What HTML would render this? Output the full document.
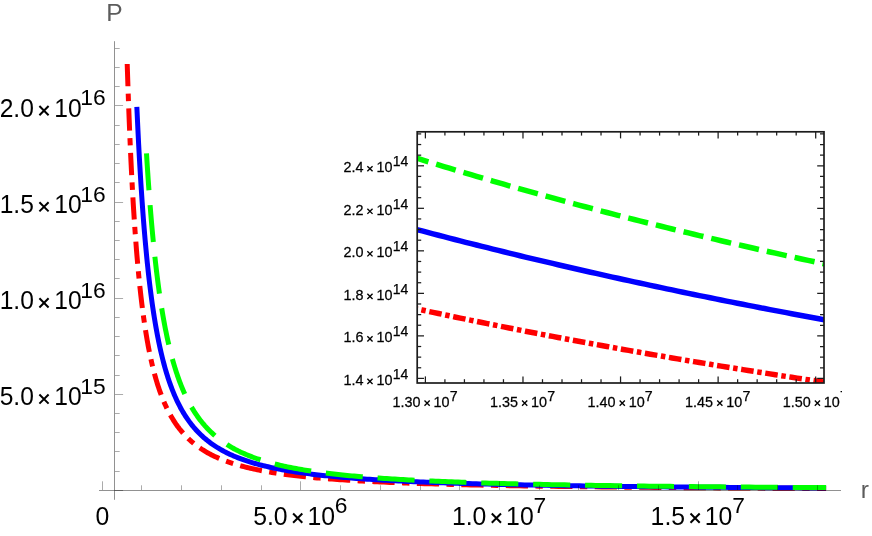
<!DOCTYPE html>
<html><head><meta charset="utf-8"><title>P vs r</title>
<style>
html,body{margin:0;padding:0;background:#fff;}
body{width:872px;height:536px;overflow:hidden;font-family:"Liberation Sans",sans-serif;}
svg{display:block;}
text{font-family:"Liberation Sans",sans-serif;}
.t{will-change:transform;}
</style></head><body>
<svg width="872" height="536" viewBox="0 0 872 536">
<rect width="872" height="536" fill="#fff"/>
<defs><clipPath id="ic"><rect x="417.20" y="131.80" width="406.80" height="251.20"/></clipPath>
<clipPath id="pc"><rect x="0" y="0" width="841.5" height="536"/></clipPath></defs>

<path d="M127.21,64.00 L127.50,72.89 L127.78,81.58 L128.07,90.07 L128.37,98.36 L128.67,106.47 L128.97,114.39 L129.27,122.13 L129.58,129.70 L129.89,137.09 L130.20,144.32 L130.52,151.39 L130.84,158.30 L131.17,165.05 L131.49,171.66 L131.83,178.11 L132.16,184.43 L132.50,190.60 L132.85,196.64 L133.19,202.54 L133.54,208.31 L133.90,213.96 L134.26,219.48 L134.62,224.89 L134.99,230.17 L135.36,235.34 L135.74,240.40 L136.12,245.35 L136.50,250.19 L136.89,254.93 L137.29,259.56 L137.68,264.10 L138.09,268.54 L138.49,272.88 L138.90,277.13 L139.32,281.29 L139.74,285.37 L140.17,289.35 L140.60,293.25 L141.03,297.07 L141.47,300.81 L141.92,304.48 L142.37,308.06 L142.82,311.57 L143.28,315.01 L143.75,318.37 L144.22,321.67 L144.70,324.89 L145.18,328.05 L145.67,331.15 L146.16,334.18 L146.66,337.15 L147.16,340.06 L147.67,342.91 L148.18,345.70 L148.71,348.43 L149.23,351.11 L149.76,353.73 L150.30,356.30 L150.85,358.82 L151.40,361.29 L151.96,363.71 L152.52,366.08 L153.09,368.40 L153.67,370.68 L154.25,372.91 L154.84,375.09 L155.44,377.24 L156.04,379.34 L156.65,381.39 L157.27,383.41 L157.89,385.39 L158.52,387.33 L159.16,389.23 L159.80,391.09 L160.46,392.92 L161.12,394.71 L161.78,396.46 L162.46,398.18 L163.14,399.87 L163.83,401.53 L164.53,403.15 L165.23,404.74 L165.95,406.30 L166.67,407.83 L167.40,409.34 L168.14,410.81 L168.88,412.25 L169.64,413.67 L170.40,415.06 L171.17,416.42 L171.96,417.76 L172.75,419.07 L173.54,420.35 L174.35,421.62 L175.17,422.85 L175.99,424.07 L176.83,425.26 L177.67,426.43 L178.53,427.57 L179.39,428.70 L180.27,429.80 L181.15,430.89 L182.04,431.95 L182.95,432.99 L183.86,434.02 L184.79,435.02 L185.72,436.01 L186.67,436.97 L187.62,437.92 L188.59,438.86 L189.57,439.77 L190.56,440.67 L191.56,441.55 L192.57,442.41 L193.59,443.26 L194.63,444.09 L195.67,444.91 L196.73,445.72 L197.80,446.50 L198.88,447.28 L199.98,448.04 L201.08,448.78 L202.20,449.51 L203.33,450.23 L204.48,450.94 L205.63,451.63 L206.80,452.31 L207.99,452.98 L209.19,453.63 L210.40,454.28 L211.62,454.91 L212.86,455.53 L214.11,456.14 L215.38,456.73 L216.66,457.32 L217.95,457.90 L219.26,458.47 L220.59,459.02 L221.93,459.57 L223.28,460.10 L224.65,460.63 L226.04,461.15 L227.44,461.66 L228.86,462.16 L230.29,462.65 L231.74,463.13 L233.20,463.60 L234.69,464.06 L236.18,464.52 L237.70,464.97 L239.23,465.41 L240.78,465.84 L242.35,466.26 L243.94,466.68 L245.54,467.09 L247.16,467.49 L248.80,467.89 L250.46,468.28 L252.14,468.66 L253.84,469.03 L255.55,469.40 L257.29,469.76 L259.04,470.12 L260.81,470.47 L262.61,470.81 L264.42,471.14 L266.26,471.48 L268.11,471.80 L269.99,472.12 L271.89,472.43 L273.81,472.74 L275.75,473.04 L277.71,473.34 L279.70,473.63 L281.71,473.92 L283.74,474.20 L285.79,474.48 L287.87,474.75 L289.97,475.02 L292.09,475.28 L294.24,475.54 L296.41,475.80 L298.61,476.05 L300.83,476.29 L303.08,476.53 L305.35,476.77 L307.65,477.00 L309.97,477.23 L312.32,477.45 L314.70,477.67 L317.10,477.89 L319.53,478.10 L321.99,478.31 L324.48,478.52 L326.99,478.72 L329.53,478.92 L332.10,479.12 L334.70,479.31 L337.33,479.50 L339.99,479.68 L342.68,479.86 L345.40,480.04 L348.15,480.22 L350.93,480.39 L353.75,480.56 L356.59,480.73 L359.47,480.89 L362.38,481.05 L365.32,481.21 L368.30,481.37 L371.31,481.52 L374.35,481.67 L377.43,481.82 L380.54,481.97 L383.69,482.11 L386.87,482.25 L390.09,482.39 L393.35,482.52 L396.64,482.66 L399.97,482.79 L403.34,482.92 L406.75,483.04 L410.19,483.17 L413.67,483.29 L417.19,483.41 L420.76,483.53 L424.36,483.64 L428.00,483.76 L431.69,483.87 L435.41,483.98 L439.18,484.09 L442.99,484.20 L446.85,484.30 L450.74,484.40 L454.69,484.51 L458.67,484.61 L462.70,484.70 L466.78,484.80 L470.90,484.89 L475.07,484.99 L479.29,485.08 L483.55,485.17 L487.87,485.26 L492.23,485.34 L496.64,485.43 L501.10,485.51 L505.61,485.59 L510.17,485.68 L514.79,485.76 L519.45,485.83 L524.17,485.91 L528.94,485.99 L533.77,486.06 L538.65,486.13 L543.58,486.21 L548.57,486.28 L553.62,486.35 L558.73,486.41 L563.89,486.48 L569.11,486.55 L574.39,486.61 L579.73,486.68 L585.13,486.74 L590.59,486.80 L596.11,486.86 L601.70,486.92 L607.34,486.98 L613.06,487.04 L618.83,487.09 L624.68,487.15 L630.58,487.20 L636.56,487.26 L642.60,487.31 L648.71,487.36 L654.89,487.41 L661.14,487.46 L667.46,487.51 L673.85,487.56 L680.32,487.61 L686.85,487.66 L693.46,487.70 L700.15,487.75 L706.91,487.79 L713.75,487.84 L720.66,487.88 L727.66,487.92 L734.73,487.96 L741.88,488.00 L749.12,488.04 L756.43,488.08 L763.83,488.12 L771.31,488.16 L778.87,488.20 L786.53,488.24 L794.26,488.27 L802.09,488.31 L810.00,488.34 L818.01,488.38 L826.10,488.41" fill="none" stroke="#ff0000" stroke-width="5.0" stroke-dasharray="22.24 7.41 7.41 7.41" stroke-linejoin="round"/>
<path d="M136.84,106.80 L137.20,114.64 L137.56,122.31 L137.92,129.80 L138.28,137.13 L138.65,144.29 L139.03,151.30 L139.40,158.15 L139.78,164.84 L140.17,171.39 L140.56,177.80 L140.95,184.06 L141.35,190.19 L141.75,196.18 L142.15,202.03 L142.56,207.77 L142.97,213.37 L143.39,218.86 L143.81,224.22 L144.24,229.47 L144.67,234.60 L145.10,239.63 L145.54,244.54 L145.99,249.35 L146.43,254.06 L146.89,258.66 L147.34,263.17 L147.81,267.58 L148.27,271.89 L148.74,276.12 L149.22,280.25 L149.70,284.30 L150.19,288.26 L150.68,292.14 L151.17,295.93 L151.67,299.65 L152.18,303.29 L152.69,306.85 L153.21,310.34 L153.73,313.75 L154.26,317.09 L154.79,320.37 L155.33,323.58 L155.87,326.72 L156.42,329.79 L156.97,332.80 L157.53,335.75 L158.10,338.64 L158.67,341.47 L159.25,344.25 L159.83,346.96 L160.42,349.62 L161.02,352.23 L161.62,354.78 L162.23,357.28 L162.84,359.74 L163.46,362.14 L164.09,364.49 L164.72,366.80 L165.36,369.06 L166.00,371.28 L166.66,373.45 L167.32,375.57 L167.98,377.66 L168.65,379.70 L169.33,381.71 L170.02,383.67 L170.71,385.60 L171.41,387.49 L172.12,389.34 L172.84,391.15 L173.56,392.93 L174.29,394.67 L175.02,396.38 L175.77,398.06 L176.52,399.71 L177.28,401.32 L178.05,402.90 L178.82,404.45 L179.61,405.97 L180.40,407.47 L181.20,408.93 L182.00,410.36 L182.82,411.77 L183.64,413.15 L184.48,414.51 L185.32,415.84 L186.17,417.14 L187.03,418.42 L187.89,419.68 L188.77,420.91 L189.65,422.11 L190.55,423.30 L191.45,424.46 L192.36,425.61 L193.28,426.73 L194.21,427.82 L195.15,428.90 L196.10,429.96 L197.06,431.00 L198.03,432.02 L199.01,433.02 L200.00,434.01 L201.00,434.97 L202.01,435.92 L203.03,436.85 L204.06,437.76 L205.10,438.65 L206.15,439.53 L207.22,440.40 L208.29,441.25 L209.37,442.08 L210.47,442.90 L211.57,443.70 L212.69,444.49 L213.82,445.26 L214.96,446.02 L216.11,446.77 L217.28,447.50 L218.45,448.22 L219.64,448.92 L220.84,449.62 L222.05,450.30 L223.28,450.97 L224.51,451.63 L225.76,452.27 L227.03,452.91 L228.30,453.53 L229.59,454.14 L230.89,454.75 L232.21,455.34 L233.53,455.92 L234.88,456.49 L236.23,457.05 L237.60,457.60 L238.98,458.14 L240.38,458.67 L241.79,459.19 L243.22,459.71 L244.66,460.21 L246.11,460.71 L247.58,461.19 L249.07,461.67 L250.57,462.14 L252.09,462.60 L253.62,463.06 L255.16,463.50 L256.73,463.94 L258.30,464.37 L259.90,464.80 L261.51,465.21 L263.14,465.62 L264.78,466.03 L266.44,466.42 L268.12,466.81 L269.81,467.19 L271.53,467.57 L273.26,467.94 L275.00,468.30 L276.77,468.66 L278.55,469.01 L280.35,469.35 L282.17,469.69 L284.01,470.03 L285.87,470.35 L287.74,470.68 L289.64,470.99 L291.55,471.30 L293.49,471.61 L295.44,471.91 L297.41,472.21 L299.41,472.50 L301.42,472.79 L303.46,473.07 L305.51,473.34 L307.59,473.62 L309.69,473.88 L311.80,474.15 L313.95,474.41 L316.11,474.66 L318.29,474.91 L320.50,475.16 L322.73,475.40 L324.98,475.64 L327.26,475.87 L329.56,476.10 L331.88,476.33 L334.22,476.55 L336.59,476.77 L338.99,476.99 L341.40,477.20 L343.85,477.41 L346.31,477.61 L348.81,477.82 L351.33,478.01 L353.87,478.21 L356.44,478.40 L359.04,478.59 L361.66,478.78 L364.31,478.96 L366.99,479.14 L369.69,479.32 L372.42,479.49 L375.18,479.66 L377.97,479.83 L380.79,480.00 L383.63,480.16 L386.50,480.32 L389.41,480.48 L392.34,480.63 L395.30,480.79 L398.30,480.94 L401.32,481.09 L404.37,481.23 L407.46,481.38 L410.58,481.52 L413.73,481.66 L416.91,481.79 L420.12,481.93 L423.37,482.06 L426.65,482.19 L429.96,482.32 L433.31,482.44 L436.69,482.57 L440.10,482.69 L443.55,482.81 L447.04,482.93 L450.56,483.04 L454.12,483.16 L457.71,483.27 L461.34,483.38 L465.01,483.49 L468.71,483.60 L472.46,483.70 L476.24,483.81 L480.06,483.91 L483.91,484.01 L487.81,484.11 L491.75,484.21 L495.73,484.30 L499.74,484.40 L503.80,484.49 L507.90,484.58 L512.05,484.67 L516.23,484.76 L520.46,484.85 L524.73,484.93 L529.04,485.02 L533.40,485.10 L537.81,485.18 L542.25,485.26 L546.75,485.34 L551.29,485.42 L555.87,485.50 L560.50,485.57 L565.18,485.65 L569.91,485.72 L574.69,485.79 L579.51,485.86 L584.38,485.93 L589.31,486.00 L594.28,486.07 L599.30,486.14 L604.38,486.20 L609.51,486.27 L614.69,486.33 L619.92,486.39 L625.21,486.46 L630.55,486.52 L635.94,486.58 L641.39,486.63 L646.90,486.69 L652.46,486.75 L658.07,486.81 L663.75,486.86 L669.48,486.91 L675.28,486.97 L681.13,487.02 L687.04,487.07 L693.01,487.12 L699.04,487.17 L705.13,487.22 L711.29,487.27 L717.51,487.32 L723.79,487.37 L730.14,487.41 L736.55,487.46 L743.03,487.50 L749.57,487.55 L756.18,487.59 L762.85,487.64 L769.60,487.68 L776.41,487.72 L783.30,487.76 L790.25,487.80 L797.28,487.84 L804.37,487.88 L811.54,487.92 L818.78,487.96 L826.10,487.99" fill="none" stroke="#0000ff" stroke-width="5.0" stroke-linejoin="round"/>
<path d="M146.49,153.30 L146.90,160.03 L147.32,166.61 L147.75,173.04 L148.18,179.33 L148.61,185.49 L149.04,191.51 L149.49,197.39 L149.93,203.15 L150.38,208.79 L150.83,214.30 L151.29,219.69 L151.75,224.97 L152.22,230.13 L152.69,235.18 L153.16,240.12 L153.64,244.95 L154.12,249.69 L154.61,254.32 L155.10,258.85 L155.60,263.28 L156.10,267.62 L156.61,271.87 L157.12,276.03 L157.64,280.10 L158.16,284.08 L158.68,287.98 L159.21,291.80 L159.75,295.54 L160.29,299.20 L160.84,302.78 L161.39,306.29 L161.94,309.73 L162.51,313.09 L163.07,316.39 L163.64,319.61 L164.22,322.77 L164.80,325.87 L165.39,328.90 L165.99,331.87 L166.59,334.78 L167.19,337.63 L167.80,340.42 L168.42,343.15 L169.04,345.83 L169.67,348.46 L170.30,351.03 L170.94,353.55 L171.59,356.02 L172.24,358.44 L172.90,360.81 L173.56,363.13 L174.23,365.41 L174.91,367.64 L175.59,369.83 L176.28,371.97 L176.98,374.08 L177.68,376.14 L178.39,378.16 L179.10,380.14 L179.83,382.08 L180.55,383.98 L181.29,385.85 L182.03,387.68 L182.78,389.47 L183.54,391.23 L184.30,392.96 L185.08,394.65 L185.85,396.31 L186.64,397.94 L187.43,399.53 L188.23,401.10 L189.04,402.63 L189.86,404.14 L190.68,405.62 L191.51,407.07 L192.35,408.49 L193.20,409.89 L194.05,411.26 L194.91,412.60 L195.78,413.92 L196.66,415.21 L197.55,416.48 L198.45,417.73 L199.35,418.95 L200.26,420.15 L201.18,421.33 L202.11,422.48 L203.05,423.62 L204.00,424.73 L204.95,425.83 L205.92,426.90 L206.89,427.95 L207.88,428.99 L208.87,430.00 L209.87,431.00 L210.88,431.98 L211.90,432.94 L212.93,433.88 L213.97,434.81 L215.02,435.72 L216.08,436.61 L217.15,437.49 L218.23,438.35 L219.32,439.20 L220.42,440.03 L221.53,440.85 L222.65,441.65 L223.78,442.44 L224.92,443.21 L226.07,443.97 L227.23,444.72 L228.41,445.46 L229.59,446.18 L230.79,446.89 L232.00,447.58 L233.21,448.27 L234.44,448.94 L235.69,449.60 L236.94,450.25 L238.20,450.89 L239.48,451.51 L240.77,452.13 L242.07,452.73 L243.38,453.33 L244.71,453.91 L246.05,454.49 L247.40,455.05 L248.76,455.61 L250.14,456.15 L251.52,456.69 L252.93,457.22 L254.34,457.74 L255.77,458.25 L257.21,458.75 L258.67,459.24 L260.14,459.73 L261.62,460.20 L263.11,460.67 L264.62,461.13 L266.15,461.59 L267.69,462.03 L269.24,462.47 L270.81,462.90 L272.39,463.32 L273.99,463.74 L275.60,464.15 L277.23,464.55 L278.87,464.95 L280.53,465.34 L282.20,465.72 L283.89,466.10 L285.60,466.47 L287.32,466.84 L289.06,467.20 L290.81,467.55 L292.58,467.90 L294.37,468.24 L296.17,468.58 L297.99,468.91 L299.83,469.23 L301.69,469.55 L303.56,469.87 L305.45,470.18 L307.36,470.48 L309.28,470.78 L311.23,471.08 L313.19,471.37 L315.17,471.66 L317.17,471.94 L319.18,472.21 L321.22,472.49 L323.28,472.76 L325.35,473.02 L327.45,473.28 L329.56,473.54 L331.69,473.79 L333.85,474.03 L336.02,474.28 L338.22,474.52 L340.43,474.76 L342.67,474.99 L344.92,475.22 L347.20,475.44 L349.50,475.66 L351.82,475.88 L354.16,476.10 L356.53,476.31 L358.91,476.52 L361.32,476.72 L363.76,476.92 L366.21,477.12 L368.69,477.32 L371.19,477.51 L373.71,477.70 L376.26,477.89 L378.83,478.07 L381.43,478.25 L384.05,478.43 L386.69,478.61 L389.36,478.78 L392.06,478.95 L394.78,479.12 L397.52,479.28 L400.30,479.45 L403.09,479.61 L405.92,479.76 L408.77,479.92 L411.64,480.07 L414.55,480.22 L417.48,480.37 L420.44,480.52 L423.42,480.66 L426.44,480.80 L429.48,480.94 L432.55,481.08 L435.65,481.22 L438.78,481.35 L441.94,481.48 L445.13,481.61 L448.35,481.74 L451.59,481.86 L454.87,481.99 L458.18,482.11 L461.52,482.23 L464.89,482.35 L468.30,482.46 L471.73,482.58 L475.20,482.69 L478.70,482.80 L482.23,482.91 L485.80,483.02 L489.40,483.13 L493.03,483.23 L496.70,483.33 L500.40,483.44 L504.14,483.54 L507.91,483.63 L511.72,483.73 L515.56,483.83 L519.44,483.92 L523.35,484.02 L527.30,484.11 L531.29,484.20 L535.32,484.29 L539.38,484.37 L543.48,484.46 L547.63,484.55 L551.80,484.63 L556.02,484.71 L560.28,484.79 L564.58,484.87 L568.92,484.95 L573.30,485.03 L577.72,485.11 L582.18,485.18 L586.68,485.26 L591.23,485.33 L595.82,485.40 L600.45,485.47 L605.12,485.54 L609.84,485.61 L614.61,485.68 L619.41,485.75 L624.27,485.82 L629.17,485.88 L634.11,485.95 L639.10,486.01 L644.14,486.07 L649.22,486.13 L654.36,486.19 L659.54,486.25 L664.77,486.31 L670.04,486.37 L675.37,486.43 L680.75,486.48 L686.18,486.54 L691.66,486.59 L697.19,486.65 L702.77,486.70 L708.41,486.75 L714.09,486.81 L719.83,486.86 L725.63,486.91 L731.48,486.96 L737.38,487.00 L743.34,487.05 L749.36,487.10 L755.43,487.15 L761.56,487.19 L767.74,487.24 L773.99,487.28 L780.29,487.33 L786.65,487.37 L793.08,487.41 L799.56,487.46 L806.10,487.50 L812.71,487.54 L819.37,487.58 L826.10,487.62" fill="none" stroke="#00ff00" stroke-width="5.0" stroke-dasharray="37.07 14.85" stroke-linejoin="round"/>
<g stroke="#000" stroke-opacity="0.43" stroke-width="1" fill="none">
<line x1="99" y1="490.5" x2="841" y2="490.5"/>
<line x1="114.5" y1="41.2" x2="114.5" y2="499.8"/>
</g>
<g stroke="#000" stroke-opacity="0.33" stroke-width="1" fill="none">
<line x1="102.5" y1="490" x2="102.5" y2="481.3"/>
<line x1="141.5" y1="490" x2="141.5" y2="485.3"/>
<line x1="181.5" y1="490" x2="181.5" y2="485.3"/>
<line x1="221.5" y1="490" x2="221.5" y2="485.3"/>
<line x1="261.5" y1="490" x2="261.5" y2="485.3"/>
<line x1="300.5" y1="490" x2="300.5" y2="481.3"/>
<line x1="340.5" y1="490" x2="340.5" y2="485.3"/>
<line x1="380.5" y1="490" x2="380.5" y2="485.3"/>
<line x1="420.5" y1="490" x2="420.5" y2="485.3"/>
<line x1="459.5" y1="490" x2="459.5" y2="485.3"/>
<line x1="499.5" y1="490" x2="499.5" y2="481.3"/>
<line x1="539.5" y1="490" x2="539.5" y2="485.3"/>
<line x1="578.5" y1="490" x2="578.5" y2="485.3"/>
<line x1="618.5" y1="490" x2="618.5" y2="485.3"/>
<line x1="658.5" y1="490" x2="658.5" y2="485.3"/>
<line x1="698.5" y1="490" x2="698.5" y2="481.3"/>
<line x1="737.5" y1="490" x2="737.5" y2="485.3"/>
<line x1="777.5" y1="490" x2="777.5" y2="485.3"/>
<line x1="817.5" y1="490" x2="817.5" y2="485.3"/>
<line x1="115" y1="490.5" x2="123.1" y2="490.5"/>
<line x1="115" y1="471.5" x2="119.7" y2="471.5"/>
<line x1="115" y1="451.5" x2="119.7" y2="451.5"/>
<line x1="115" y1="432.5" x2="119.7" y2="432.5"/>
<line x1="115" y1="413.5" x2="119.7" y2="413.5"/>
<line x1="115" y1="394.5" x2="123.1" y2="394.5"/>
<line x1="115" y1="375.5" x2="119.7" y2="375.5"/>
<line x1="115" y1="355.5" x2="119.7" y2="355.5"/>
<line x1="115" y1="336.5" x2="119.7" y2="336.5"/>
<line x1="115" y1="317.5" x2="119.7" y2="317.5"/>
<line x1="115" y1="298.5" x2="123.1" y2="298.5"/>
<line x1="115" y1="278.5" x2="119.7" y2="278.5"/>
<line x1="115" y1="259.5" x2="119.7" y2="259.5"/>
<line x1="115" y1="240.5" x2="119.7" y2="240.5"/>
<line x1="115" y1="221.5" x2="119.7" y2="221.5"/>
<line x1="115" y1="202.5" x2="123.1" y2="202.5"/>
<line x1="115" y1="182.5" x2="119.7" y2="182.5"/>
<line x1="115" y1="163.5" x2="119.7" y2="163.5"/>
<line x1="115" y1="144.5" x2="119.7" y2="144.5"/>
<line x1="115" y1="125.5" x2="119.7" y2="125.5"/>
<line x1="115" y1="105.5" x2="123.1" y2="105.5"/>
<line x1="115" y1="86.5" x2="119.7" y2="86.5"/>
<line x1="115" y1="67.5" x2="119.7" y2="67.5"/>
<line x1="115" y1="48.5" x2="119.7" y2="48.5"/>
</g>
<g clip-path="url(#pc)">
<rect x="417.2" y="131.8" width="406.8" height="251.2" fill="#fff"/>
<g clip-path="url(#ic)">
<path d="M405.88,306.50 L411.32,307.69 L416.75,308.87 L422.19,310.04 L427.62,311.21 L433.06,312.37 L438.49,313.52 L443.93,314.67 L449.36,315.81 L454.80,316.95 L460.23,318.08 L465.67,319.20 L471.10,320.32 L476.53,321.43 L481.97,322.54 L487.40,323.64 L492.84,324.74 L498.27,325.83 L503.71,326.91 L509.14,327.99 L514.58,329.06 L520.01,330.13 L525.45,331.19 L530.88,332.25 L536.31,333.30 L541.75,334.35 L547.18,335.39 L552.62,336.42 L558.05,337.45 L563.49,338.48 L568.92,339.50 L574.36,340.51 L579.79,341.52 L585.23,342.53 L590.66,343.53 L596.09,344.52 L601.53,345.51 L606.96,346.49 L612.40,347.47 L617.83,348.45 L623.27,349.42 L628.70,350.38 L634.14,351.34 L639.57,352.30 L645.01,353.25 L650.44,354.20 L655.87,355.14 L661.31,356.08 L666.74,357.01 L672.18,357.94 L677.61,358.86 L683.05,359.78 L688.48,360.69 L693.92,361.60 L699.35,362.51 L704.79,363.41 L710.22,364.31 L715.65,365.20 L721.09,366.09 L726.52,366.98 L731.96,367.86 L737.39,368.73 L742.83,369.60 L748.26,370.47 L753.70,371.33 L759.13,372.19 L764.57,373.05 L770.00,373.90 L775.43,374.75 L780.87,375.59 L786.30,376.43 L791.74,377.27 L797.17,378.10 L802.61,378.93 L808.04,379.75 L813.48,380.57 L818.91,381.39 L824.35,382.20 L829.78,383.01 L835.21,383.82" fill="none" stroke="#ff0000" stroke-width="5.5" stroke-dasharray="12.6 3.65 4.5 3.65" stroke-dashoffset="0.44"/>
<path d="M405.88,226.61 L411.32,228.07 L416.75,229.53 L422.19,230.97 L427.62,232.41 L433.06,233.84 L438.49,235.26 L443.93,236.68 L449.36,238.09 L454.80,239.49 L460.23,240.88 L465.67,242.27 L471.10,243.64 L476.53,245.01 L481.97,246.38 L487.40,247.73 L492.84,249.08 L498.27,250.43 L503.71,251.76 L509.14,253.09 L514.58,254.41 L520.01,255.73 L525.45,257.03 L530.88,258.33 L536.31,259.63 L541.75,260.92 L547.18,262.20 L552.62,263.47 L558.05,264.74 L563.49,266.00 L568.92,267.26 L574.36,268.51 L579.79,269.75 L585.23,270.99 L590.66,272.22 L596.09,273.44 L601.53,274.66 L606.96,275.87 L612.40,277.07 L617.83,278.27 L623.27,279.47 L628.70,280.65 L634.14,281.84 L639.57,283.01 L645.01,284.18 L650.44,285.35 L655.87,286.50 L661.31,287.66 L666.74,288.80 L672.18,289.95 L677.61,291.08 L683.05,292.21 L688.48,293.34 L693.92,294.46 L699.35,295.57 L704.79,296.68 L710.22,297.78 L715.65,298.88 L721.09,299.97 L726.52,301.06 L731.96,302.14 L737.39,303.22 L742.83,304.29 L748.26,305.36 L753.70,306.42 L759.13,307.48 L764.57,308.53 L770.00,309.58 L775.43,310.62 L780.87,311.65 L786.30,312.69 L791.74,313.71 L797.17,314.74 L802.61,315.75 L808.04,316.77 L813.48,317.77 L818.91,318.78 L824.35,319.78 L829.78,320.77 L835.21,321.76" fill="none" stroke="#0000ff" stroke-width="5.45"/>
<path d="M405.88,154.71 L411.32,156.43 L416.75,158.13 L422.19,159.83 L427.62,161.52 L433.06,163.20 L438.49,164.86 L443.93,166.53 L449.36,168.18 L454.80,169.82 L460.23,171.45 L465.67,173.08 L471.10,174.70 L476.53,176.30 L481.97,177.90 L487.40,179.49 L492.84,181.08 L498.27,182.65 L503.71,184.22 L509.14,185.77 L514.58,187.32 L520.01,188.87 L525.45,190.40 L530.88,191.93 L536.31,193.44 L541.75,194.95 L547.18,196.45 L552.62,197.95 L558.05,199.44 L563.49,200.91 L568.92,202.39 L574.36,203.85 L579.79,205.31 L585.23,206.76 L590.66,208.20 L596.09,209.63 L601.53,211.06 L606.96,212.48 L612.40,213.89 L617.83,215.30 L623.27,216.70 L628.70,218.09 L634.14,219.47 L639.57,220.85 L645.01,222.22 L650.44,223.58 L655.87,224.94 L661.31,226.29 L666.74,227.64 L672.18,228.97 L677.61,230.30 L683.05,231.63 L688.48,232.95 L693.92,234.26 L699.35,235.56 L704.79,236.86 L710.22,238.15 L715.65,239.44 L721.09,240.72 L726.52,241.99 L731.96,243.26 L737.39,244.52 L742.83,245.77 L748.26,247.02 L753.70,248.27 L759.13,249.50 L764.57,250.73 L770.00,251.96 L775.43,253.18 L780.87,254.39 L786.30,255.60 L791.74,256.80 L797.17,258.00 L802.61,259.19 L808.04,260.38 L813.48,261.56 L818.91,262.73 L824.35,263.90 L829.78,265.06 L835.21,266.22" fill="none" stroke="#00ff00" stroke-width="5.5" stroke-dasharray="20.4 8.1" stroke-dashoffset="25.28"/>
</g>
<g stroke="#1c1c1c" stroke-width="1.25">
<line x1="425.40" y1="383.0" x2="425.40" y2="376.40"/>
<line x1="425.40" y1="131.8" x2="425.40" y2="138.40"/>
<line x1="444.91" y1="383.0" x2="444.91" y2="379.20"/>
<line x1="444.91" y1="131.8" x2="444.91" y2="135.60"/>
<line x1="464.43" y1="383.0" x2="464.43" y2="379.20"/>
<line x1="464.43" y1="131.8" x2="464.43" y2="135.60"/>
<line x1="483.94" y1="383.0" x2="483.94" y2="379.20"/>
<line x1="483.94" y1="131.8" x2="483.94" y2="135.60"/>
<line x1="503.46" y1="383.0" x2="503.46" y2="379.20"/>
<line x1="503.46" y1="131.8" x2="503.46" y2="135.60"/>
<line x1="522.98" y1="383.0" x2="522.98" y2="376.40"/>
<line x1="522.98" y1="131.8" x2="522.98" y2="138.40"/>
<line x1="542.49" y1="383.0" x2="542.49" y2="379.20"/>
<line x1="542.49" y1="131.8" x2="542.49" y2="135.60"/>
<line x1="562.00" y1="383.0" x2="562.00" y2="379.20"/>
<line x1="562.00" y1="131.8" x2="562.00" y2="135.60"/>
<line x1="581.52" y1="383.0" x2="581.52" y2="379.20"/>
<line x1="581.52" y1="131.8" x2="581.52" y2="135.60"/>
<line x1="601.03" y1="383.0" x2="601.03" y2="379.20"/>
<line x1="601.03" y1="131.8" x2="601.03" y2="135.60"/>
<line x1="620.55" y1="383.0" x2="620.55" y2="376.40"/>
<line x1="620.55" y1="131.8" x2="620.55" y2="138.40"/>
<line x1="640.07" y1="383.0" x2="640.07" y2="379.20"/>
<line x1="640.07" y1="131.8" x2="640.07" y2="135.60"/>
<line x1="659.58" y1="383.0" x2="659.58" y2="379.20"/>
<line x1="659.58" y1="131.8" x2="659.58" y2="135.60"/>
<line x1="679.10" y1="383.0" x2="679.10" y2="379.20"/>
<line x1="679.10" y1="131.8" x2="679.10" y2="135.60"/>
<line x1="698.61" y1="383.0" x2="698.61" y2="379.20"/>
<line x1="698.61" y1="131.8" x2="698.61" y2="135.60"/>
<line x1="718.12" y1="383.0" x2="718.12" y2="376.40"/>
<line x1="718.12" y1="131.8" x2="718.12" y2="138.40"/>
<line x1="737.64" y1="383.0" x2="737.64" y2="379.20"/>
<line x1="737.64" y1="131.8" x2="737.64" y2="135.60"/>
<line x1="757.15" y1="383.0" x2="757.15" y2="379.20"/>
<line x1="757.15" y1="131.8" x2="757.15" y2="135.60"/>
<line x1="776.67" y1="383.0" x2="776.67" y2="379.20"/>
<line x1="776.67" y1="131.8" x2="776.67" y2="135.60"/>
<line x1="796.18" y1="383.0" x2="796.18" y2="379.20"/>
<line x1="796.18" y1="131.8" x2="796.18" y2="135.60"/>
<line x1="815.70" y1="383.0" x2="815.70" y2="376.40"/>
<line x1="815.70" y1="131.8" x2="815.70" y2="138.40"/>
<line x1="417.2" y1="378.40" x2="424.00" y2="378.40"/>
<line x1="824.0" y1="378.40" x2="817.20" y2="378.40"/>
<line x1="417.2" y1="367.77" x2="421.20" y2="367.77"/>
<line x1="824.0" y1="367.77" x2="820.00" y2="367.77"/>
<line x1="417.2" y1="357.14" x2="421.20" y2="357.14"/>
<line x1="824.0" y1="357.14" x2="820.00" y2="357.14"/>
<line x1="417.2" y1="346.51" x2="421.20" y2="346.51"/>
<line x1="824.0" y1="346.51" x2="820.00" y2="346.51"/>
<line x1="417.2" y1="335.88" x2="424.00" y2="335.88"/>
<line x1="824.0" y1="335.88" x2="817.20" y2="335.88"/>
<line x1="417.2" y1="325.25" x2="421.20" y2="325.25"/>
<line x1="824.0" y1="325.25" x2="820.00" y2="325.25"/>
<line x1="417.2" y1="314.62" x2="421.20" y2="314.62"/>
<line x1="824.0" y1="314.62" x2="820.00" y2="314.62"/>
<line x1="417.2" y1="303.99" x2="421.20" y2="303.99"/>
<line x1="824.0" y1="303.99" x2="820.00" y2="303.99"/>
<line x1="417.2" y1="293.36" x2="424.00" y2="293.36"/>
<line x1="824.0" y1="293.36" x2="817.20" y2="293.36"/>
<line x1="417.2" y1="282.73" x2="421.20" y2="282.73"/>
<line x1="824.0" y1="282.73" x2="820.00" y2="282.73"/>
<line x1="417.2" y1="272.10" x2="421.20" y2="272.10"/>
<line x1="824.0" y1="272.10" x2="820.00" y2="272.10"/>
<line x1="417.2" y1="261.47" x2="421.20" y2="261.47"/>
<line x1="824.0" y1="261.47" x2="820.00" y2="261.47"/>
<line x1="417.2" y1="250.84" x2="424.00" y2="250.84"/>
<line x1="824.0" y1="250.84" x2="817.20" y2="250.84"/>
<line x1="417.2" y1="240.21" x2="421.20" y2="240.21"/>
<line x1="824.0" y1="240.21" x2="820.00" y2="240.21"/>
<line x1="417.2" y1="229.58" x2="421.20" y2="229.58"/>
<line x1="824.0" y1="229.58" x2="820.00" y2="229.58"/>
<line x1="417.2" y1="218.95" x2="421.20" y2="218.95"/>
<line x1="824.0" y1="218.95" x2="820.00" y2="218.95"/>
<line x1="417.2" y1="208.32" x2="424.00" y2="208.32"/>
<line x1="824.0" y1="208.32" x2="817.20" y2="208.32"/>
<line x1="417.2" y1="197.69" x2="421.20" y2="197.69"/>
<line x1="824.0" y1="197.69" x2="820.00" y2="197.69"/>
<line x1="417.2" y1="187.06" x2="421.20" y2="187.06"/>
<line x1="824.0" y1="187.06" x2="820.00" y2="187.06"/>
<line x1="417.2" y1="176.43" x2="421.20" y2="176.43"/>
<line x1="824.0" y1="176.43" x2="820.00" y2="176.43"/>
<line x1="417.2" y1="165.80" x2="424.00" y2="165.80"/>
<line x1="824.0" y1="165.80" x2="817.20" y2="165.80"/>
<line x1="417.2" y1="155.17" x2="421.20" y2="155.17"/>
<line x1="824.0" y1="155.17" x2="820.00" y2="155.17"/>
<line x1="417.2" y1="144.54" x2="421.20" y2="144.54"/>
<line x1="824.0" y1="144.54" x2="820.00" y2="144.54"/>
<line x1="417.2" y1="133.91" x2="421.20" y2="133.91"/>
<line x1="824.0" y1="133.91" x2="820.00" y2="133.91"/>
</g>
<rect x="417.2" y="131.8" width="406.8" height="251.2" fill="none" stroke="#1c1c1c" stroke-width="1.7"/>
<g fill="#000" class="t">
<text transform="translate(343.50,385.00) scale(1,1.06)" font-size="14.4" stroke="#000" stroke-width="0.25">1.4</text><path d="M367.35,378.75L372.55,383.95M367.35,383.95L372.55,378.75" stroke="#000" stroke-width="1.35" fill="none"/><text transform="translate(376.40,385.00) scale(1,1.06)" font-size="14.4" stroke="#000" stroke-width="0.25">10</text><text x="392.70" y="379.00" font-size="14.0" stroke="#000" stroke-width="0.25">14</text>
<text transform="translate(343.50,342.48) scale(1,1.06)" font-size="14.4" stroke="#000" stroke-width="0.25">1.6</text><path d="M367.35,336.23L372.55,341.43M367.35,341.43L372.55,336.23" stroke="#000" stroke-width="1.35" fill="none"/><text transform="translate(376.40,342.48) scale(1,1.06)" font-size="14.4" stroke="#000" stroke-width="0.25">10</text><text x="392.70" y="336.48" font-size="14.0" stroke="#000" stroke-width="0.25">14</text>
<text transform="translate(343.50,299.96) scale(1,1.06)" font-size="14.4" stroke="#000" stroke-width="0.25">1.8</text><path d="M367.35,293.71L372.55,298.91M367.35,298.91L372.55,293.71" stroke="#000" stroke-width="1.35" fill="none"/><text transform="translate(376.40,299.96) scale(1,1.06)" font-size="14.4" stroke="#000" stroke-width="0.25">10</text><text x="392.70" y="293.96" font-size="14.0" stroke="#000" stroke-width="0.25">14</text>
<text transform="translate(343.50,257.44) scale(1,1.06)" font-size="14.4" stroke="#000" stroke-width="0.25">2.0</text><path d="M367.35,251.19L372.55,256.39M367.35,256.39L372.55,251.19" stroke="#000" stroke-width="1.35" fill="none"/><text transform="translate(376.40,257.44) scale(1,1.06)" font-size="14.4" stroke="#000" stroke-width="0.25">10</text><text x="392.70" y="251.44" font-size="14.0" stroke="#000" stroke-width="0.25">14</text>
<text transform="translate(343.50,214.92) scale(1,1.06)" font-size="14.4" stroke="#000" stroke-width="0.25">2.2</text><path d="M367.35,208.67L372.55,213.87M367.35,213.87L372.55,208.67" stroke="#000" stroke-width="1.35" fill="none"/><text transform="translate(376.40,214.92) scale(1,1.06)" font-size="14.4" stroke="#000" stroke-width="0.25">10</text><text x="392.70" y="208.92" font-size="14.0" stroke="#000" stroke-width="0.25">14</text>
<text transform="translate(343.50,172.40) scale(1,1.06)" font-size="14.4" stroke="#000" stroke-width="0.25">2.4</text><path d="M367.35,166.15L372.55,171.35M367.35,171.35L372.55,166.15" stroke="#000" stroke-width="1.35" fill="none"/><text transform="translate(376.40,172.40) scale(1,1.06)" font-size="14.4" stroke="#000" stroke-width="0.25">10</text><text x="392.70" y="166.40" font-size="14.0" stroke="#000" stroke-width="0.25">14</text>
<text transform="translate(392.40,407.00) scale(1,1.06)" font-size="14.4" stroke="#000" stroke-width="0.25">1.30</text><path d="M424.50,400.60L429.70,405.80M424.50,405.80L429.70,400.60" stroke="#000" stroke-width="1.35" fill="none"/><text transform="translate(433.50,407.00) scale(1,1.06)" font-size="14.4" stroke="#000" stroke-width="0.25">10</text><text x="449.70" y="401.10" font-size="14.2" stroke="#000" stroke-width="0.25">7</text>
<text transform="translate(489.98,407.00) scale(1,1.06)" font-size="14.4" stroke="#000" stroke-width="0.25">1.35</text><path d="M522.08,400.60L527.28,405.80M522.08,405.80L527.28,400.60" stroke="#000" stroke-width="1.35" fill="none"/><text transform="translate(531.08,407.00) scale(1,1.06)" font-size="14.4" stroke="#000" stroke-width="0.25">10</text><text x="547.27" y="401.10" font-size="14.2" stroke="#000" stroke-width="0.25">7</text>
<text transform="translate(587.55,407.00) scale(1,1.06)" font-size="14.4" stroke="#000" stroke-width="0.25">1.40</text><path d="M619.65,400.60L624.85,405.80M619.65,405.80L624.85,400.60" stroke="#000" stroke-width="1.35" fill="none"/><text transform="translate(628.65,407.00) scale(1,1.06)" font-size="14.4" stroke="#000" stroke-width="0.25">10</text><text x="644.85" y="401.10" font-size="14.2" stroke="#000" stroke-width="0.25">7</text>
<text transform="translate(685.12,407.00) scale(1,1.06)" font-size="14.4" stroke="#000" stroke-width="0.25">1.45</text><path d="M717.23,400.60L722.43,405.80M717.23,405.80L722.43,400.60" stroke="#000" stroke-width="1.35" fill="none"/><text transform="translate(726.23,407.00) scale(1,1.06)" font-size="14.4" stroke="#000" stroke-width="0.25">10</text><text x="742.42" y="401.10" font-size="14.2" stroke="#000" stroke-width="0.25">7</text>
<text transform="translate(782.70,407.00) scale(1,1.06)" font-size="14.4" stroke="#000" stroke-width="0.25">1.50</text><path d="M814.80,400.60L820.00,405.80M814.80,405.80L820.00,400.60" stroke="#000" stroke-width="1.35" fill="none"/><text transform="translate(823.80,407.00) scale(1,1.06)" font-size="14.4" stroke="#000" stroke-width="0.25">10</text><text x="840.00" y="401.10" font-size="14.2" stroke="#000" stroke-width="0.25">7</text>
</g>
</g>
<g fill="#000" class="t">
<text transform="translate(-0.34,405.17) scale(1,1.03)" font-size="24.6">5.0</text><path d="M39.40,394.42L48.60,403.62M39.40,403.62L48.60,394.42" stroke="#000" stroke-width="2.0" fill="none"/><text transform="translate(54.20,405.17) scale(1,1.03)" font-size="24.6">10</text><text x="80.30" y="393.77" font-size="22.8">15</text>
<text transform="translate(-0.34,309.05) scale(1,1.03)" font-size="24.6">1.0</text><path d="M39.40,298.30L48.60,307.50M39.40,307.50L48.60,298.30" stroke="#000" stroke-width="2.0" fill="none"/><text transform="translate(54.20,309.05) scale(1,1.03)" font-size="24.6">10</text><text x="80.30" y="297.65" font-size="22.8">16</text>
<text transform="translate(-0.34,212.92) scale(1,1.03)" font-size="24.6">1.5</text><path d="M39.40,202.17L48.60,211.37M39.40,211.37L48.60,202.17" stroke="#000" stroke-width="2.0" fill="none"/><text transform="translate(54.20,212.92) scale(1,1.03)" font-size="24.6">10</text><text x="80.30" y="201.52" font-size="22.8">16</text>
<text transform="translate(-0.34,116.80) scale(1,1.03)" font-size="24.6">2.0</text><path d="M39.40,106.05L48.60,115.25M39.40,115.25L48.60,106.05" stroke="#000" stroke-width="2.0" fill="none"/><text transform="translate(54.20,116.80) scale(1,1.03)" font-size="24.6">10</text><text x="80.30" y="105.40" font-size="22.8">16</text>
<text transform="translate(253.20,524.70) scale(1,1.03)" font-size="24.8">5.0</text><path d="M293.10,513.55L302.30,522.75M293.10,522.75L302.30,513.55" stroke="#000" stroke-width="2.0" fill="none"/><text transform="translate(307.40,524.70) scale(1,1.03)" font-size="24.8">10</text><text x="334.85" y="513.00" font-size="22.8">6</text>
<text transform="translate(451.90,524.70) scale(1,1.03)" font-size="24.8">1.0</text><path d="M491.80,513.55L501.00,522.75M491.80,522.75L501.00,513.55" stroke="#000" stroke-width="2.0" fill="none"/><text transform="translate(506.10,524.70) scale(1,1.03)" font-size="24.8">10</text><text x="533.55" y="513.00" font-size="22.8">7</text>
<text transform="translate(650.60,524.70) scale(1,1.03)" font-size="24.8">1.5</text><path d="M690.50,513.55L699.70,522.75M690.50,522.75L699.70,513.55" stroke="#000" stroke-width="2.0" fill="none"/><text transform="translate(704.80,524.70) scale(1,1.03)" font-size="24.8">10</text><text x="732.25" y="513.00" font-size="22.8">7</text>
<text transform="translate(95.45,524.70) scale(1,1.03)" font-size="24.8">0</text>
</g>
<g class="t" fill="#5c5c5c"><text x="114.45" y="21.45" font-size="24.6" text-anchor="middle">P</text>
<text x="860.7" y="498" font-size="24.6">r</text></g>
</svg></body></html>
